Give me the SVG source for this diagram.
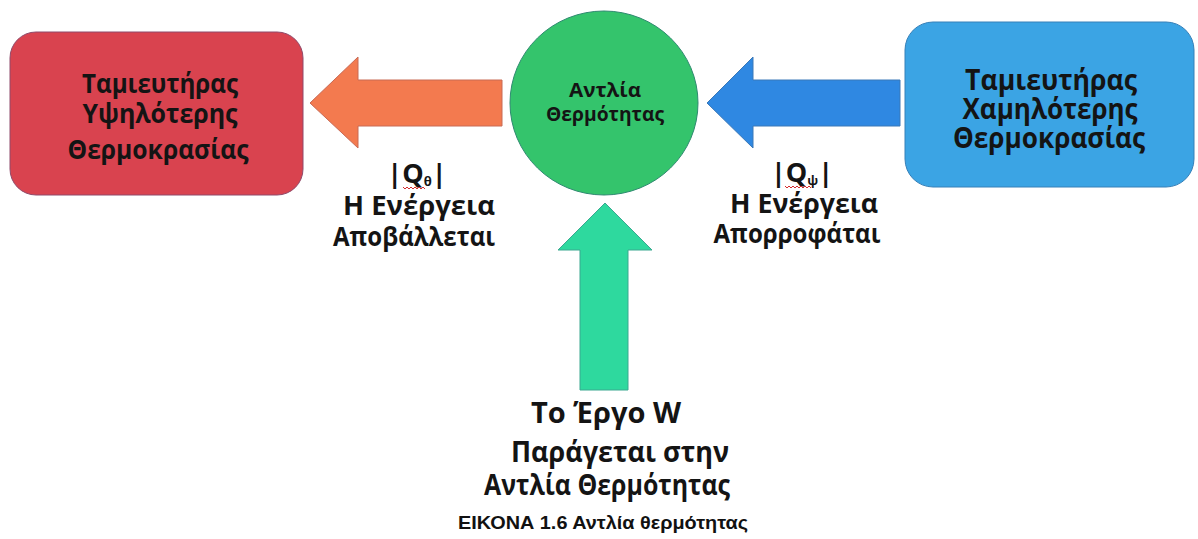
<svg xmlns="http://www.w3.org/2000/svg" width="1198" height="539" viewBox="0 0 1198 539">
<style>
.t{font-family:"Open Sans","Noto Sans","DejaVu Sans",sans-serif;font-weight:700;fill:#141414;text-anchor:middle}
.cap{font-family:"Liberation Sans",Arial,sans-serif;font-weight:bold;font-size:19px;fill:#111;text-anchor:middle}
.wavy{fill:none;stroke:#d42a2a;stroke-width:1}
</style>
<rect width="1198" height="539" fill="#ffffff"/>
<g id="connectors">
<polygon id="arrow-out" points="502,80 358,80 358,57 310,103 358,148 358,126 502,126" fill="#f37a4f" stroke="#c86a55" stroke-width="1"/>
<polygon id="arrow-in" points="900,80 753,80 753,57 707,103 753,148 753,126 900,126" fill="#2f88e2" stroke="#3a78b8" stroke-width="1"/>
<polygon id="arrow-work" points="580,390 580,250 558,250 605,203 652,250 628,250 628,390" fill="#2ed99e" stroke="#3aa890" stroke-width="1"/>
</g>
<g id="hot-reservoir">
<rect x="10" y="32" width="293" height="163" rx="26" fill="#d9434f" stroke="#8f4a6a" stroke-width="1"/>
<text class="t" font-size="26"><tspan x="160" y="93" textLength="156" lengthAdjust="spacingAndGlyphs">Ταμιευτήρας</tspan><tspan x="160" y="123" textLength="155" lengthAdjust="spacingAndGlyphs">Υψηλότερης</tspan><tspan x="158" y="159" textLength="181" lengthAdjust="spacingAndGlyphs">Θερμοκρασίας</tspan></text>
</g>
<g id="heat-pump">
<ellipse cx="604" cy="103" rx="94" ry="92" fill="#34c46c" stroke="#2f8a70" stroke-width="1"/>
<text class="t" font-size="20"><tspan x="605" y="97" textLength="72" lengthAdjust="spacingAndGlyphs">Αντλία</tspan><tspan x="605" y="121" textLength="118" lengthAdjust="spacingAndGlyphs">Θερμότητας</tspan></text>
</g>
<g id="cold-reservoir">
<rect x="905" y="22" width="289" height="165" rx="28" fill="#3ba4e4" stroke="#3680b8" stroke-width="1"/>
<text class="t" font-size="28"><tspan x="1051" y="90" textLength="172" lengthAdjust="spacingAndGlyphs">Ταμιευτήρας</tspan><tspan x="1050" y="119" textLength="175" lengthAdjust="spacingAndGlyphs">Χαμηλότερης</tspan><tspan x="1049" y="148" textLength="192" lengthAdjust="spacingAndGlyphs">Θερμοκρασίας</tspan></text>
</g>
<g id="label-rejected">
<text class="t" font-size="27"><tspan x="417" y="183">|Q<tspan font-size="13" dy="3">θ</tspan><tspan dy="-3">|</tspan></tspan><tspan x="419" y="215" textLength="152" lengthAdjust="spacingAndGlyphs">Η Ενέργεια</tspan><tspan x="414" y="246" textLength="162" lengthAdjust="spacingAndGlyphs">Αποβάλλεται</tspan></text>
<path class="wavy" d="M403,187 l2,2 l2,-2 l2,2 l2,-2 l2,2 l2,-2 l2,2 l2,-2 l2,2 l2,-2 l2,2"/>
</g>
<g id="label-absorbed">
<text class="t" font-size="27"><tspan x="802" y="182">|Q<tspan font-size="13" dy="3">ψ</tspan><tspan dy="-3">|</tspan></tspan><tspan x="804" y="213" textLength="148" lengthAdjust="spacingAndGlyphs">Η Ενέργεια</tspan><tspan x="797" y="243" textLength="167" lengthAdjust="spacingAndGlyphs">Απορροφάται</tspan></text>
<path class="wavy" d="M785,186 l2,2 l2,-2 l2,2 l2,-2 l2,2 l2,-2 l2,2 l2,-2 l2,2 l2,-2 l2,2 l2,-2 l2,2"/>
</g>
<g id="label-work">
<text class="t" font-size="28"><tspan x="606" y="423" textLength="150" lengthAdjust="spacingAndGlyphs">Το Έργο W</tspan><tspan x="620" y="462" textLength="218" lengthAdjust="spacingAndGlyphs">Παράγεται στην</tspan><tspan x="607" y="495" textLength="246" lengthAdjust="spacingAndGlyphs">Αντλία Θερμότητας</tspan></text>
</g>
<text class="cap" x="603" y="529" textLength="290" lengthAdjust="spacingAndGlyphs">ΕΙΚΟΝΑ 1.6 Αντλία θερμότητας</text>
</svg>
